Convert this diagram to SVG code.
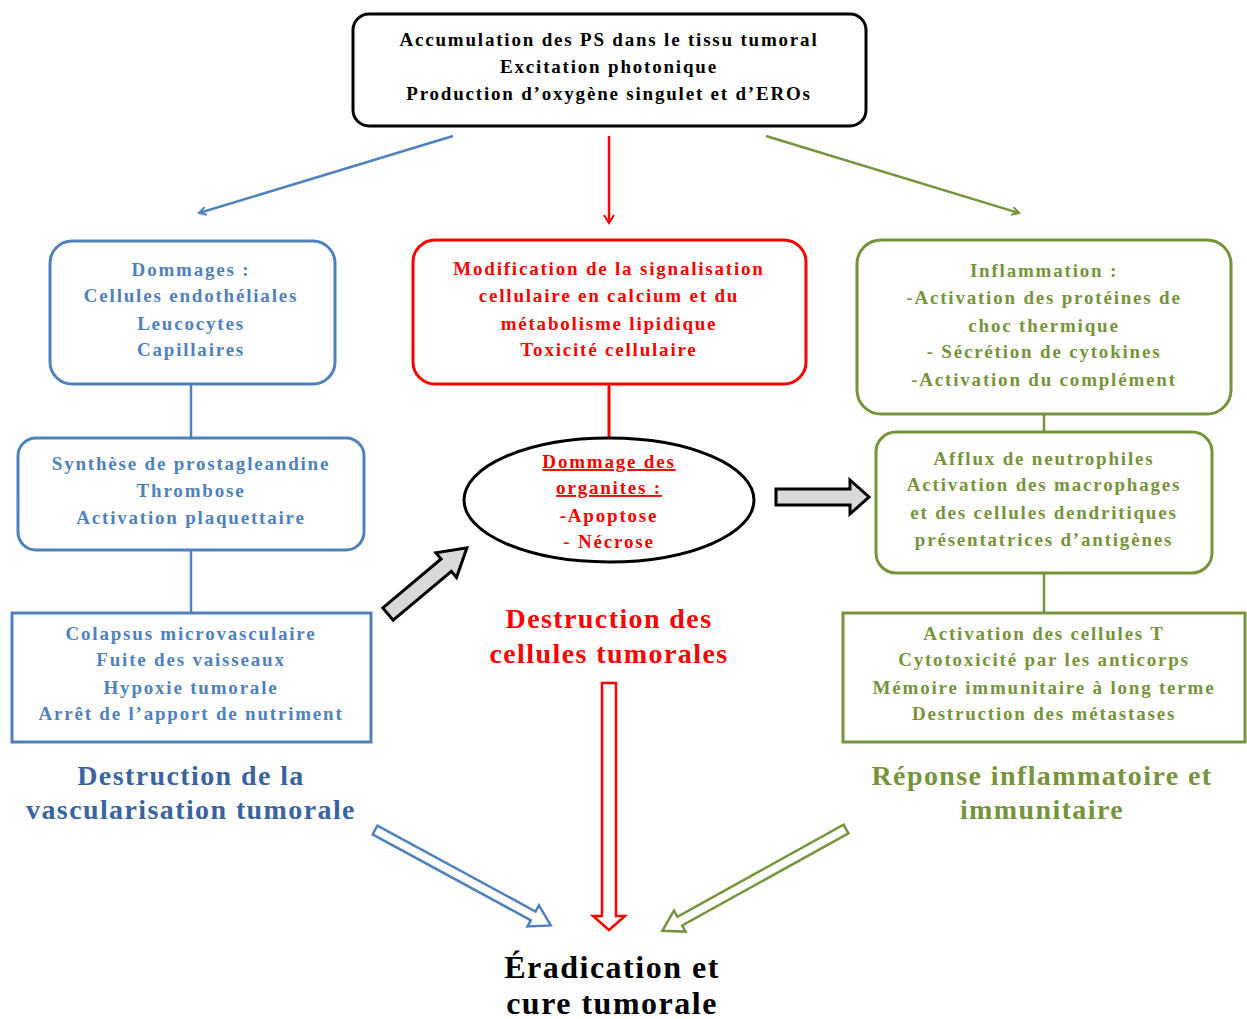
<svg xmlns="http://www.w3.org/2000/svg" width="1247" height="1019" viewBox="0 0 1247 1019">
<style>
text{font-family:"Liberation Serif","Times New Roman",serif;font-weight:bold;text-anchor:middle}
.t{font-size:19px;letter-spacing:1.8px}
.blue{fill:#4F81BD}
.red{fill:#FF0000}
.green{fill:#77933C}
.blk{fill:#000}
.title{font-size:28px;letter-spacing:1.4px}
.bbox{fill:#fff;stroke:#4F81BD;stroke-width:3}
.rbox{fill:#fff;stroke:#FF0000;stroke-width:3}
.gbox{fill:#fff;stroke:#77933C;stroke-width:3}
.kbox{fill:#fff;stroke:#000;stroke-width:3}
.grey{fill:#D9D9D9;stroke:#000;stroke-width:3;stroke-linejoin:miter}
</style>
<defs>
<marker id="ab" markerWidth="10" markerHeight="10" refX="8" refY="5" orient="auto" markerUnits="userSpaceOnUse"><path d="M1,1 L8,5 L1,9" fill="none" stroke="#4F81BD" stroke-width="2"/></marker>
<marker id="ar" markerWidth="12" markerHeight="12" refX="9" refY="6" orient="auto" markerUnits="userSpaceOnUse"><path d="M1,1 L9,6 L1,11" fill="none" stroke="#FF0000" stroke-width="2"/></marker>
<marker id="ag" markerWidth="10" markerHeight="10" refX="8" refY="5" orient="auto" markerUnits="userSpaceOnUse"><path d="M1,1 L8,5 L1,9" fill="none" stroke="#77933C" stroke-width="2"/></marker>
</defs>
<rect width="1247" height="1019" fill="#fff"/>

<g id="connectors">
<line x1="453" y1="136" x2="199" y2="213" stroke="#4F81BD" stroke-width="2.5" marker-end="url(#ab)"/>
<line x1="609" y1="136" x2="609" y2="223" stroke="#FF0000" stroke-width="2.5" marker-end="url(#ar)"/>
<line x1="766" y1="136" x2="1019" y2="213" stroke="#77933C" stroke-width="2.5" marker-end="url(#ag)"/>
<line x1="191" y1="384" x2="191" y2="438" stroke="#4F81BD" stroke-width="2.5"/>
<line x1="191" y1="550" x2="191" y2="613" stroke="#4F81BD" stroke-width="2.5"/>
<line x1="609" y1="384" x2="609" y2="439" stroke="#FF0000" stroke-width="3"/>
<line x1="1044" y1="414" x2="1044" y2="432" stroke="#77933C" stroke-width="2.5"/>
<line x1="1044" y1="573" x2="1044" y2="613" stroke="#77933C" stroke-width="2.5"/>
<polygon class="grey" points="0,-8 76,-8 76,-16 103,0 76,16 76,8 0,8" transform="translate(388,614) rotate(-40)"/>
<polygon class="grey" points="776,489 850,489 850,480 869,497 850,514 850,505 776,505"/>
<polygon points="602,683 616,683 616,916 625,916 609,930 593,916 602,916" fill="#fff" stroke="#FF0000" stroke-width="2.5"/>
<polygon points="0,-5 180,-5 180,-12 200,0 180,12 180,5 0,5" fill="#fff" stroke="#4F81BD" stroke-width="2.5" transform="translate(375,830) rotate(28.5)"/>
<polygon points="0,-5 190,-5 190,-12 210,0 190,12 190,5 0,5" fill="#fff" stroke="#77933C" stroke-width="2.5" transform="translate(846,829) rotate(151)"/>
</g>

<g id="top">
<rect class="kbox" x="353" y="14" width="513" height="112" rx="16"/>
<text class="t blk" x="609" y="46">Accumulation des PS dans le tissu tumoral</text>
<text class="t blk" x="609" y="73">Excitation photonique</text>
<text class="t blk" x="609" y="100">Production d’oxygène singulet et d’EROs</text>
</g>

<g id="blue1">
<rect class="bbox" x="50" y="241" width="285" height="143" rx="22"/>
<text class="t blue" x="191" y="276">Dommages :</text>
<text class="t blue" x="191" y="302">Cellules endothéliales</text>
<text class="t blue" x="191" y="330">Leucocytes</text>
<text class="t blue" x="191" y="356">Capillaires</text>
</g>
<g id="blue2">
<rect class="bbox" x="18" y="438" width="346" height="112" rx="18"/>
<text class="t blue" x="191" y="470">Synthèse de prostagleandine</text>
<text class="t blue" x="191" y="497">Thrombose</text>
<text class="t blue" x="191" y="524">Activation plaquettaire</text>
</g>
<g id="blue3">
<rect class="bbox" x="12" y="613" width="359" height="129"/>
<text class="t blue" x="191" y="640">Colapsus microvasculaire</text>
<text class="t blue" x="191" y="666">Fuite des vaisseaux</text>
<text class="t blue" x="191" y="694">Hypoxie tumorale</text>
<text class="t blue" x="191" y="720">Arrêt de l’apport de nutriment</text>
</g>
<g id="blueTitle">
<text class="title" fill="#3A64A0" x="191" y="785">Destruction de la</text>
<text class="title" fill="#3A64A0" x="191" y="819">vascularisation tumorale</text>
</g>

<g id="red1">
<rect class="rbox" x="413" y="240" width="393" height="144" rx="22"/>
<text class="t red" x="609" y="275">Modification de la signalisation</text>
<text class="t red" x="609" y="302">cellulaire en calcium et du</text>
<text class="t red" x="609" y="330">métabolisme lipidique</text>
<text class="t red" x="609" y="356">Toxicité cellulaire</text>
</g>
<g id="ellipse">
<ellipse cx="609" cy="500" rx="145" ry="62" fill="#fff" stroke="#000" stroke-width="3"/>
<text class="t red" x="609" y="468" text-decoration="underline">Dommage des</text>
<text class="t red" x="609" y="494" text-decoration="underline">organites :</text>
<text class="t red" x="609" y="522">-Apoptose</text>
<text class="t red" x="609" y="548">- Nécrose</text>
</g>
<g id="redTitle">
<text class="title red" x="609" y="628">Destruction des</text>
<text class="title red" x="609" y="663">cellules tumorales</text>
</g>

<g id="green1">
<rect class="gbox" x="857" y="240" width="374" height="174" rx="24"/>
<text class="t green" x="1044" y="277">Inflammation :</text>
<text class="t green" x="1044" y="304">-Activation des protéines de</text>
<text class="t green" x="1044" y="332">choc thermique</text>
<text class="t green" x="1044" y="358">- Sécrétion de cytokines</text>
<text class="t green" x="1044" y="386">-Activation du complément</text>
</g>
<g id="green2">
<rect class="gbox" x="876" y="432" width="336" height="141" rx="20"/>
<text class="t green" x="1044" y="465">Afflux de neutrophiles</text>
<text class="t green" x="1044" y="491">Activation des macrophages</text>
<text class="t green" x="1044" y="519">et des cellules dendritiques</text>
<text class="t green" x="1044" y="546">présentatrices d’antigènes</text>
</g>
<g id="green3">
<rect class="gbox" x="843" y="613" width="402" height="129"/>
<text class="t green" x="1044" y="640">Activation des cellules T</text>
<text class="t green" x="1044" y="666">Cytotoxicité par les anticorps</text>
<text class="t green" x="1044" y="694">Mémoire immunitaire à long terme</text>
<text class="t green" x="1044" y="720">Destruction des métastases</text>
</g>
<g id="greenTitle">
<text class="title green" x="1042" y="785">Réponse inflammatoire et</text>
<text class="title green" x="1042" y="819">immunitaire</text>
</g>

<g id="final">
<text class="blk" style="font-size:32px;letter-spacing:1.5px" x="612" y="978">Éradication et</text>
<text class="blk" style="font-size:32px;letter-spacing:1.5px" x="612" y="1014">cure tumorale</text>
</g>
</svg>
